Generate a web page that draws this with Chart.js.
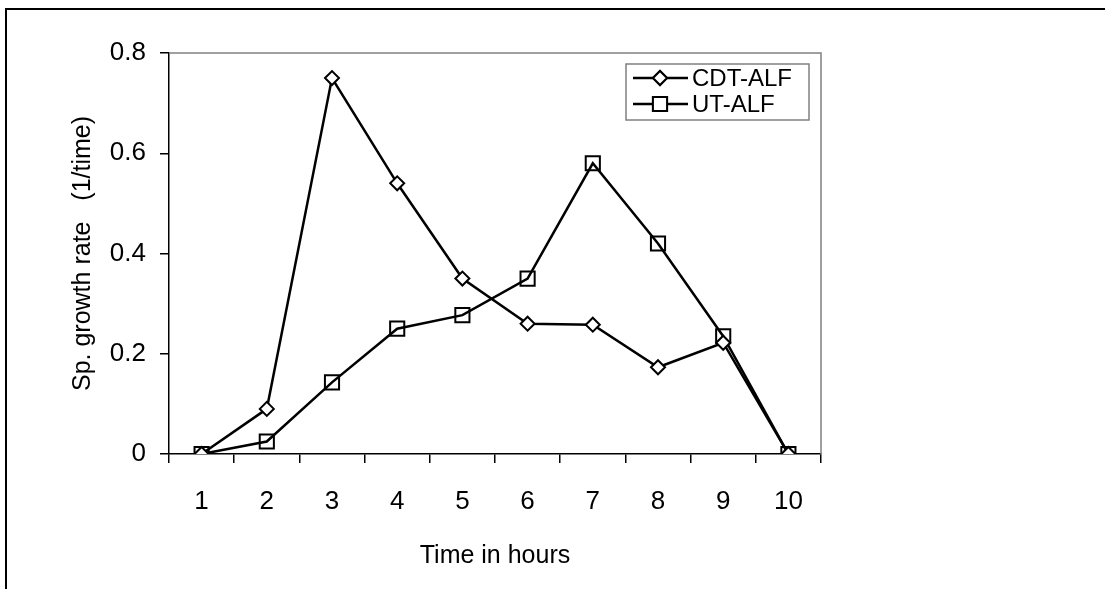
<!DOCTYPE html>
<html>
<head>
<meta charset="utf-8">
<script src="https://cdn.jsdelivr.net/npm/chart.js"></script>
<style>
  html, body { margin: 0; padding: 0; background: #fff; }
  #wrap { position: relative; width: 1105px; height: 589px; overflow: hidden; }
  #frame { position: absolute; left: 5px; top: 8px; right: -10px; bottom: -10px;
           border-left: 2px solid #000; border-top: 2px solid #000; }
  canvas { position: absolute; left: 0; top: 0; }
</style>
</head>
<body>
<div id="wrap">
  <div id="frame"></div>
  <canvas id="chart" width="1105" height="589"></canvas>
</div>
<script>
const hours = ['1', '2', '3', '4', '5', '6', '7', '8', '9', '10'];
const cdtAlf = [0, 0.09, 0.75, 0.54, 0.35, 0.26, 0.258, 0.173, 0.222, 0];
const utAlf = [0, 0.025, 0.143, 0.25, 0.277, 0.35, 0.58, 0.42, 0.235, 0];
const yTicks = [0, 0.2, 0.4, 0.6, 0.8];

const FONT = '"Liberation Sans", Arial, sans-serif';

// gray frame on top/right of the plot area + the legend box
const plotFrame = {
    id: 'plotFrame',
    beforeDatasetsDraw(chart) {
        const a = chart.chartArea;
        const ctx = chart.ctx;
        ctx.save();
        ctx.strokeStyle = '#808080';
        ctx.lineWidth = 1.5;
        ctx.beginPath();
        ctx.moveTo(a.left, a.top);
        ctx.lineTo(a.right, a.top);
        ctx.lineTo(a.right, a.bottom);
        ctx.stroke();
        ctx.restore();
    },
    afterDraw(chart) {
        const ctx = chart.ctx;
        ctx.save();
        ctx.fillStyle = '#fff';
        ctx.fillRect(626, 64, 183, 56);
        ctx.strokeStyle = '#808080';
        ctx.lineWidth = 1.5;
        ctx.strokeRect(626, 64, 183, 56);
        chart.data.datasets.forEach((ds, i) => {
            const y = 78 + i * 26;
            ctx.strokeStyle = '#000';
            ctx.lineWidth = 2.5;
            ctx.beginPath();
            ctx.moveTo(633, y);
            ctx.lineTo(688, y);
            ctx.stroke();
            ctx.lineWidth = 2;
            ctx.fillStyle = '#fff';
            Chart.helpers.drawPoint(ctx, { pointStyle: ds.pointStyle, radius: ds.pointRadius, borderWidth: 2 }, 660, y);
            ctx.fill();
            ctx.stroke();
            ctx.fillStyle = '#000';
            ctx.font = '24px ' + FONT;
            ctx.textBaseline = 'middle';
            ctx.fillText(ds.label, 692, y + 1);
        });
        ctx.restore();
    }
};

new Chart(document.getElementById('chart'), {
    type: 'line',
    data: {
        labels: hours,
        datasets: [{
            label: 'CDT-ALF',
            data: cdtAlf,
            borderColor: '#000',
            borderWidth: 2.5,
            pointStyle: 'rectRot',
            pointRadius: 7,
            pointBorderWidth: 2,
            pointBackgroundColor: '#fff',
            pointBorderColor: '#000',
            tension: 0
        }, {
            label: 'UT-ALF',
            data: utAlf,
            borderColor: '#000',
            borderWidth: 2.5,
            pointStyle: 'rect',
            pointRadius: 10,
            pointBorderWidth: 2,
            pointBackgroundColor: 'rgba(255,255,255,0)',
            pointBorderColor: '#000',
            tension: 0
        }]
    },
    options: {
        responsive: false,
        animation: false,
        layout: { padding: { left: 68, top: 53, right: 284, bottom: 14 } },
        plugins: { legend: { display: false }, tooltip: { enabled: false } },
        scales: {
            x: {
                offset: true,
                afterFit(scale) { scale.height = 121; },
                grid: { drawOnChartArea: false, offset: true, tickLength: 9, color: '#000', lineWidth: 1.5 },
                border: { color: '#000', width: 1.5 },
                ticks: { color: '#000', font: { family: FONT, size: 26 }, padding: 23 },
                title: { display: true, text: 'Time in hours', color: '#000', font: { family: FONT, size: 25 }, padding: { top: 0, bottom: 4 } }
            },
            y: {
                min: 0,
                max: 0.8,
                afterFit(scale) { scale.width = 101; },
                afterBuildTicks(scale) { scale.ticks = yTicks.map(v => ({ value: v })); },
                grid: { drawOnChartArea: false, tickLength: 9, color: '#000', lineWidth: 1.5 },
                border: { color: '#000', width: 1.5 },
                ticks: { color: '#000', font: { family: FONT, size: 26 }, padding: 14,
                         callback: v => v === 0 ? '0' : v.toFixed(1) },
                title: { display: true, text: 'Sp. growth rate   (1/time)', color: '#000', font: { family: FONT, size: 25 }, padding: { top: 0, bottom: 0 } }
            }
        }
    },
    plugins: [plotFrame]
});
</script>
</body>
</html>
